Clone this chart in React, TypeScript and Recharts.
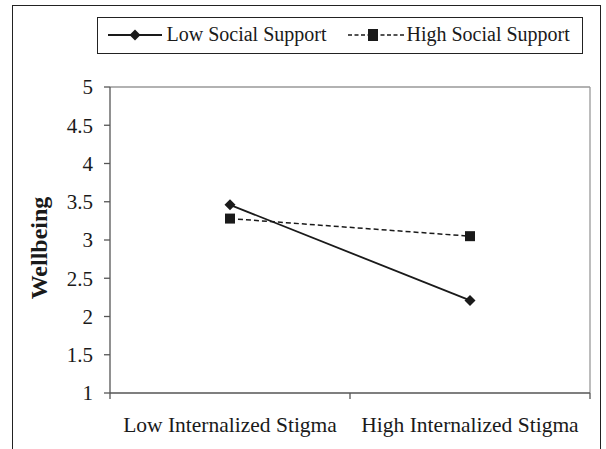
import React from 'react';
import { LineChart, Line, XAxis, YAxis, ReferenceLine } from 'recharts';

const categories = ['Low Internalized Stigma', 'High Internalized Stigma'];
const lowSupport = [3.46, 2.21];
const highSupport = [3.28, 3.05];
const yTicks = [1, 1.5, 2, 2.5, 3, 3.5, 4, 4.5, 5];
const seriesNames = ['Low Social Support', 'High Social Support'];
const yTitle = 'Wellbeing';

const data = categories.map((c, i) => ({ x: i + 0.5, name: c, low: lowSupport[i], high: highSupport[i] }));

const FONT = '"Liberation Serif", "Times New Roman", serif';
const INK = '#1a1a1a';
const AXIS = '#555';

const Diamond = (props: any) => {
  const { cx, cy } = props;
  if (cx == null || cy == null) return null;
  const r = 5.5;
  return <path d={`M${cx},${cy - r}L${cx + r},${cy}L${cx},${cy + r}L${cx - r},${cy}Z`} fill={INK} />;
};

const Square = (props: any) => {
  const { cx, cy } = props;
  if (cx == null || cy == null) return null;
  const s = 5;
  return <rect x={cx - s} y={cy - s} width={2 * s} height={2 * s} fill={INK} />;
};

const XTick = (props: any) => {
  const { x, y, payload } = props;
  const v = payload.value;
  if (Number.isInteger(v)) {
    return <line x1={x} x2={x} y1={y - 8} y2={y - 2} stroke={AXIS} strokeWidth={1.3} />;
  }
  const label = categories[Math.floor(v)];
  return (
    <text x={x} y={y + 31} textAnchor="middle" fontFamily={FONT} fontSize={21.5} fill={INK}>
      {label}
    </text>
  );
};

const YTitle = () => (
  <text
    transform="translate(47,248) rotate(-90)"
    textAnchor="middle"
    fontFamily={FONT}
    fontSize={24}
    fontWeight="bold"
    fill={INK}
  >
    {yTitle}
  </text>
);

const LegendBox = () => (
  <div
    style={{
      position: 'absolute',
      left: 97,
      top: 17,
      width: 486,
      height: 37,
      border: '1.5px solid #222',
      boxSizing: 'border-box',
      fontFamily: FONT,
      fontSize: 20,
      color: INK,
      background: '#fff',
    }}
  >
    <svg width={486} height={34} style={{ position: 'absolute', left: -1.5, top: -1.5 }}>
      <line x1={11} x2={65} y1={18} y2={18} stroke={INK} strokeWidth={1.8} />
      <path d="M38,12.5L43.5,18L38,23.5L32.5,18Z" fill={INK} />
      <line x1={251} x2={308} y1={18} y2={18} stroke={INK} strokeWidth={1.5} strokeDasharray="4 2.5" />
      <rect x={271} y={12} width={10} height={12} fill={INK} />
    </svg>
    <span style={{ position: 'absolute', left: 68.5, top: 5, whiteSpace: 'nowrap' }}>{seriesNames[0]}</span>
    <span style={{ position: 'absolute', left: 308.5, top: 5, whiteSpace: 'nowrap' }}>{seriesNames[1]}</span>
  </div>
);

export default function App() {
  return (
    <div style={{ position: 'absolute', left: 0, top: 0, width: 606, height: 449, background: '#fff', overflow: 'hidden' }}>
      <div
        style={{
          position: 'absolute',
          left: 12,
          top: 5,
          width: 589,
          height: 470,
          border: '1.5px solid #222',
          boxSizing: 'border-box',
        }}
      />
      <div style={{ position: 'absolute', left: 0, top: 0 }}>
        <LineChart width={606} height={449} data={data} margin={{ top: 87, right: 16, bottom: 26, left: 50 }}>
          <ReferenceLine y={5} stroke="#999" strokeWidth={1.3} />
          <ReferenceLine x={2} stroke="#999" strokeWidth={1.3} />
          <XAxis
            dataKey="x"
            type="number"
            domain={[0, 2]}
            ticks={[0, 0.5, 1, 1.5, 2]}
            interval={0}
            tick={<XTick />}
            tickLine={false}
            axisLine={{ stroke: AXIS, strokeWidth: 1.3 }}
            height={30}
          />
          <YAxis
            type="number"
            domain={[1, 5]}
            ticks={yTicks}
            interval={0}
            width={60}
            tickSize={6}
            tickMargin={11}
            tickLine={{ stroke: AXIS, strokeWidth: 1.3 }}
            axisLine={{ stroke: AXIS, strokeWidth: 1.3 }}
            tick={{ fontFamily: FONT, fontSize: 21, fill: INK }}
            label={{ content: <YTitle /> }}
          />
          <Line
            dataKey="low"
            name={seriesNames[0]}
            stroke={INK}
            strokeWidth={1.8}
            dot={<Diamond />}
            activeDot={false}
            isAnimationActive={false}
          />
          <Line
            dataKey="high"
            name={seriesNames[1]}
            stroke={INK}
            strokeWidth={1.5}
            strokeDasharray="5 3"
            dot={<Square />}
            activeDot={false}
            isAnimationActive={false}
          />
        </LineChart>
      </div>
      <LegendBox />
    </div>
  );
}
